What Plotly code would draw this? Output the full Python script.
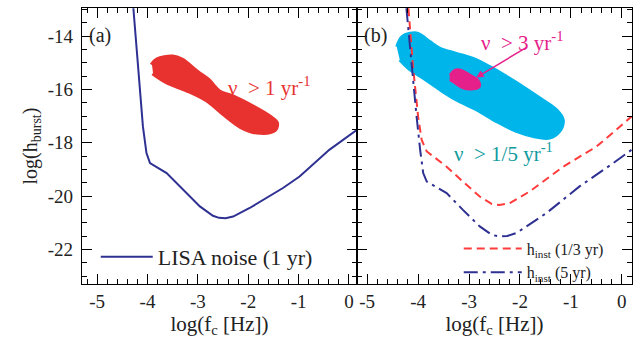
import plotly.graph_objects as go

# ---------------- data ----------------
# Panel (a): LISA noise (1 yr)
lisa_x = [-4.28, -4.19, -4.09, -4.02, -3.95, -3.62, -3.29, -2.96, -2.70, -2.58, -2.45, -2.30,
          -1.97, -1.64, -1.31, -0.98, -0.65, -0.39, 0.16]
lisa_y = [-12.96, -15.15, -17.40, -18.39, -18.77, -19.14, -19.77, -20.39, -20.74, -20.82,
          -20.83, -20.77, -20.45, -20.08, -19.70, -19.27, -18.71, -18.27, -17.52]

# Panel (b): h_inst (1/3 yr)
h13_x = [-4.19, -4.10, -4.00, -3.93, -3.83, -3.44, -3.12, -2.79, -2.55, -2.40, -2.20, -1.81,
         -1.15, -0.50, -0.11, 0.19]
h13_y = [-12.96, -15.15, -17.02, -17.90, -18.33, -18.90, -19.46, -20.02, -20.30, -20.34,
         -20.27, -19.83, -18.90, -18.15, -17.52, -17.02]

# Panel (b): h_inst (5 yr)
h5_x = [-4.23, -4.13, -4.03, -3.96, -3.90, -3.83, -3.44, -3.12, -2.79, -2.55, -2.40, -2.25,
        -2.07, -1.48, -0.83, -0.17, 0.19]
h5_y = [-12.96, -15.15, -17.02, -18.27, -19.14, -19.46, -19.89, -20.52, -21.14, -21.46,
        -21.52, -21.50, -21.39, -20.64, -19.64, -18.77, -18.27]

# Region nu > 1/yr (panel a)
reg1_x = [-3.91, -3.81, -3.50, -3.32, -3.02, -2.80, -2.57, -2.31, -1.91, -1.58, -1.44,
          -1.48, -1.83, -2.13, -2.51, -2.82, -3.22, -3.62, -3.89]
reg1_y = [-15.09, -14.90, -14.79, -14.90, -15.35, -15.65, -16.10, -16.28, -16.66, -17.03,
          -17.26, -17.52, -17.60, -17.41, -16.88, -16.40, -16.02, -15.72, -15.39]

# Region nu > 1/5 yr (panel b)
reg5_x = [-4.42, -4.32, -4.16, -4.00, -3.77, -3.57, -3.25, -2.92, -2.59, -2.26, -1.94,
          -1.55, -1.28, -1.15, -1.22, -1.42, -1.74, -2.07, -2.46, -2.85, -3.25, -3.57,
          -3.90, -4.16, -4.36]
reg5_y = [-14.40, -14.03, -13.90, -13.90, -14.21, -14.46, -14.65, -14.84, -15.15, -15.52,
          -15.90, -16.40, -16.77, -17.15, -17.58, -17.83, -17.77, -17.58, -17.21, -16.77,
          -16.40, -16.02, -15.58, -15.27, -14.90]

# Region nu > 3/yr (panel b)
reg3_x = [-3.38, -3.28, -3.15, -2.98, -2.82, -2.79, -2.92, -3.12, -3.28, -3.38]
reg3_y = [-15.46, -15.27, -15.27, -15.46, -15.65, -15.90, -16.00, -15.96, -15.77, -15.65]

x_ticks = [-5, -4, -3, -2, -1, 0]
y_ticks = [-22, -20, -18, -16, -14]

# ---------------- styles ----------------
FONT = "Liberation Serif"
BLUE = "#2e3192"
RED = "#ff3b3b"
REDFILL = "#e8322f"
CYAN = "#00b5e9"
MAGENTA = "#e5208a"
TEAL = "#0e9a9e"
INK = "#222222"

fig = go.Figure()

fig.add_trace(go.Scatter(x=reg1_x, y=reg1_y, fill="toself", mode="lines",
                         line=dict(color=REDFILL, width=5, shape="spline", smoothing=1.0),
                         fillcolor=REDFILL, showlegend=False, xaxis="x", yaxis="y",
                         hoverinfo="skip"))
fig.add_trace(go.Scatter(x=lisa_x, y=lisa_y, mode="lines",
                         line=dict(color=BLUE, width=2),
                         name="LISA noise (1 yr)", legend="legend", xaxis="x", yaxis="y"))

fig.add_trace(go.Scatter(x=reg5_x, y=reg5_y, fill="toself", mode="lines",
                         line=dict(color=CYAN, width=3, shape="spline", smoothing=1.0),
                         fillcolor=CYAN, showlegend=False, xaxis="x2", yaxis="y2",
                         hoverinfo="skip"))
fig.add_trace(go.Scatter(x=reg3_x, y=reg3_y, fill="toself", mode="lines",
                         line=dict(color=MAGENTA, width=2, shape="spline", smoothing=1.0),
                         fillcolor=MAGENTA, showlegend=False, xaxis="x2", yaxis="y2",
                         hoverinfo="skip"))
fig.add_trace(go.Scatter(x=h13_x, y=h13_y, mode="lines",
                         line=dict(color=RED, width=2, dash="8px,5px"),
                         name="h<sub>inst</sub> (1/3 yr)", legend="legend2",
                         xaxis="x2", yaxis="y2"))
fig.add_trace(go.Scatter(x=h5_x, y=h5_y, mode="lines",
                         line=dict(color=BLUE, width=2, dash="14px,5px,3px,5px"),
                         name="h<sub>inst</sub> (5 yr)", legend="legend2",
                         xaxis="x2", yaxis="y2"))

axis_common = dict(
    showline=True, linecolor="black", linewidth=1.3, mirror="allticks",
    ticks="inside", ticklen=10, tickwidth=1.2, tickcolor="black",
    showgrid=False, zeroline=False, automargin=False,
    tickfont=dict(family=FONT, size=19, color=INK),
)
xaxis_common = dict(axis_common, tickmode="array", tickvals=x_ticks,
                    ticktext=[str(v) for v in x_ticks],
                    minor=dict(ticks="inside", ticklen=5, dtick=0.2, tick0=0,
                               tickcolor="black", tickwidth=1.1, showgrid=False))
yaxis_common = dict(axis_common, tickmode="array", tickvals=y_ticks,
                    ticktext=[str(v) for v in y_ticks], range=[-23.3, -12.95],
                    ticklabelstandoff=4,
                    minor=dict(ticks="inside", ticklen=5, dtick=0.5, tick0=0,
                               tickcolor="black", tickwidth=1.1, showgrid=False))

title_font = dict(family=FONT, size=21, color=INK)

fig.update_layout(
    width=640, height=338,
    margin=dict(l=82, r=8, t=8, b=54, autoexpand=False),
    paper_bgcolor="white", plot_bgcolor="white",
    font=dict(family=FONT, size=18, color=INK),
    xaxis=dict(xaxis_common, domain=[0, 0.5], range=[-5.3, 0.16], anchor="y",
               title=dict(text="log(f<sub>c</sub> [Hz])", font=title_font, standoff=2)),
    yaxis=dict(yaxis_common, domain=[0, 1], anchor="x",
               title=dict(text="log(h<sub>burst</sub>)", font=dict(family=FONT, size=20, color=INK),
                          standoff=4)),
    xaxis2=dict(xaxis_common, domain=[0.5, 1], range=[-5.2, 0.2], anchor="y2",
                title=dict(text="log(f<sub>c</sub> [Hz])", font=title_font, standoff=10)),
    yaxis2=dict(yaxis_common, domain=[0, 1], anchor="x2", showticklabels=False),
    legend=dict(x=0.025, y=0.098, xanchor="left", yanchor="middle", itemwidth=52,
                bgcolor="rgba(0,0,0,0)", font=dict(family=FONT, size=22, color=INK)),
    legend2=dict(x=0.685, y=0.085, xanchor="left", yanchor="middle", itemwidth=58,
                 bgcolor="rgba(0,0,0,0)", tracegroupgap=0,
                 font=dict(family=FONT, size=16, color=INK)),
    showlegend=True,
)

fig.add_annotation(text="(a)", xref="x domain", yref="y domain", x=0.018, y=0.9,
                   xanchor="left", yanchor="middle", showarrow=False,
                   font=dict(family=FONT, size=20, color=INK))
fig.add_annotation(text="(b)", xref="x2 domain", yref="y2 domain", x=0.018, y=0.9,
                   xanchor="left", yanchor="middle", showarrow=False,
                   font=dict(family=FONT, size=20, color=INK))
fig.add_annotation(text="ν&nbsp; > 1 yr<sup>-1</sup>", xref="x", yref="y", x=-2.45, y=-15.9,
                   xanchor="left", yanchor="middle", showarrow=False,
                   font=dict(family=FONT, size=21, color=REDFILL))
fig.add_annotation(text="ν&nbsp; > 3 yr<sup>-1</sup>", xref="x2", yref="y2", x=-2.8, y=-14.22,
                   xanchor="left", yanchor="middle", showarrow=False,
                   font=dict(family=FONT, size=21, color=MAGENTA))
fig.add_annotation(text="ν&nbsp; > 1/5 yr<sup>-1</sup>", xref="x2", yref="y2", x=-3.33, y=-18.35,
                   xanchor="left", yanchor="middle", showarrow=False,
                   font=dict(family=FONT, size=21, color=TEAL))
fig.add_annotation(text="", xref="x2", yref="y2", x=-2.86, y=-15.56,
                   axref="x2", ayref="y2", ax=-1.85, ay=-14.4,
                   showarrow=True, arrowhead=2, arrowsize=1, arrowwidth=1.5,
                   arrowcolor=MAGENTA)

# remove the browser's default 8px page margin so the figure sits at the window corner
fig.write_html("out.html", config={"displayModeBar": False},
               post_script="document.body.style.margin='0px';")
